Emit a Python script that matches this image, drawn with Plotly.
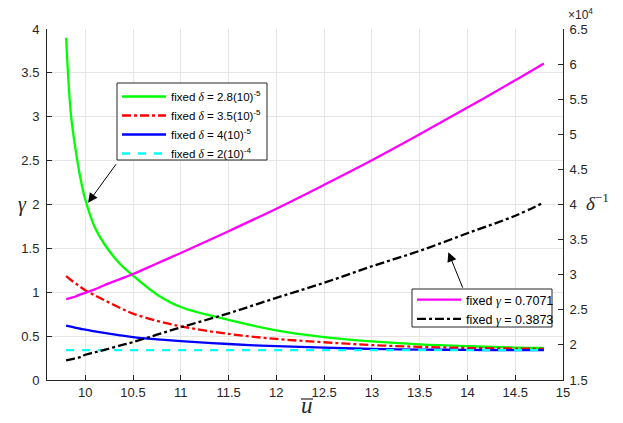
import plotly.graph_objects as go

# ---- data ----
u_bar = [9.8, 9.85, 9.9, 9.95, 10.0, 10.1, 10.2, 10.35, 10.5, 10.75, 11.0, 11.5,
         12.0, 12.5, 13.0, 13.5, 14.0, 14.5, 14.8]

gamma_d28 = [3.90, 3.03, 2.62, 2.30, 2.06, 1.74, 1.55, 1.34, 1.19, 0.975, 0.832, 0.685,
             0.566, 0.489, 0.440, 0.406, 0.385, 0.370, 0.365]
gamma_d35 = [1.183, 1.14, 1.10, 1.06, 1.023, 0.965, 0.91, 0.83, 0.757, 0.675, 0.611, 0.525,
             0.468, 0.430, 0.398, 0.378, 0.366, 0.358, 0.355]
gamma_d40 = [0.619, 0.607, 0.595, 0.584, 0.573, 0.555, 0.538, 0.512, 0.489, 0.464, 0.444, 0.410,
             0.385, 0.368, 0.354, 0.347, 0.343, 0.341, 0.340]
gamma_d200 = [0.340] * len(u_bar)

invdelta_g07071 = [26500, 26700, 26900, 27200, 27400, 27900, 28500, 29300, 30100, 31600, 33100, 36200,
                   39400, 42800, 46300, 50000, 53800, 57700, 60100]
invdelta_g03873 = [17800, 17950, 18100, 18250, 18600, 18950, 19300, 19850, 20400, 21450, 22500, 24500,
                   26700, 28850, 31200, 33400, 35900, 38400, 40300]

x_ticks = [10, 10.5, 11, 11.5, 12, 12.5, 13, 13.5, 14, 14.5, 15]
y_ticks = [0, 0.5, 1, 1.5, 2, 2.5, 3, 3.5, 4]
y2_ticks = [15000, 20000, 25000, 30000, 35000, 40000, 45000, 50000, 55000, 60000, 65000]
y2_labels = ["1.5", "2", "2.5", "3", "3.5", "4", "4.5", "5", "5.5", "6", "6.5"]

SERIF = "Liberation Serif"
D = "<span style='font-family:Liberation Serif'><i>δ</i></span>"
G = "<span style='font-family:Liberation Serif'><i>γ</i></span>"

W, H = 623, 423
ML, MR, MT, MB = 47, 60, 29, 43
PW, PH = W - ML - MR, H - MT - MB


def px(xp):
    return (xp - ML) / PW


def py(yp):
    return (H - MB - yp) / PH


fig = go.Figure()
fig.add_trace(go.Scatter(x=u_bar, y=gamma_d28, mode="lines", line=dict(color="#00ff00", width=2.3, shape="spline"),
                         name=f"fixed {D} = 2.8(10)<sup>-5</sup>", legend="legend"))
fig.add_trace(go.Scatter(x=u_bar, y=gamma_d35, mode="lines", line=dict(color="#ff0000", width=2.3, dash="dashdot", shape="spline"),
                         name=f"fixed {D} = 3.5(10)<sup>-5</sup>", legend="legend"))
fig.add_trace(go.Scatter(x=u_bar, y=gamma_d40, mode="lines", line=dict(color="#0000ff", width=2.3, shape="spline"),
                         name=f"fixed {D} = 4(10)<sup>-5</sup>", legend="legend"))
fig.add_trace(go.Scatter(x=u_bar, y=gamma_d200, mode="lines", line=dict(color="#00ffff", width=2.3, dash="8px,8px"),
                         name=f"fixed {D} = 2(10)<sup>-4</sup>", legend="legend"))
fig.add_trace(go.Scatter(x=u_bar, y=invdelta_g07071, mode="lines", yaxis="y2",
                         line=dict(color="#ff00ff", width=2.3, shape="spline"),
                         name=f"fixed {G} = 0.7071", legend="legend2"))
fig.add_trace(go.Scatter(x=u_bar, y=invdelta_g03873, mode="lines", yaxis="y2",
                         line=dict(color="#000000", width=2.3, dash="dashdot", shape="spline"),
                         name=f"fixed {G} = 0.3873", legend="legend2"))

axis_common = dict(showline=True, linecolor="#262626", linewidth=1, ticks="inside", ticklen=5,
                   tickcolor="#262626", tickfont=dict(family="Liberation Sans", size=13, color="#262626"),
                   zeroline=False)

fig.update_layout(
    width=W, height=H,
    margin=dict(l=ML, r=MR, t=MT, b=MB),
    paper_bgcolor="white", plot_bgcolor="white",
    showlegend=True,
    xaxis=dict(range=[9.6, 15], tickvals=x_ticks, ticktext=[f"{v:g}" for v in x_ticks],
               showgrid=True, gridcolor="#e6e6e6", gridwidth=1, **axis_common),
    yaxis=dict(range=[0, 4], tickvals=y_ticks, ticktext=[f"{v:g}" for v in y_ticks],
               showgrid=True, gridcolor="#e6e6e6", gridwidth=1, ticklabelstandoff=4, **axis_common),
    yaxis2=dict(range=[15000, 65000], overlaying="y", side="right", tickvals=y2_ticks, ticktext=y2_labels,
                showgrid=False, ticklabelstandoff=3, **axis_common),
    legend=dict(x=px(117), y=py(82), xanchor="left", yanchor="top", bgcolor="rgba(0,0,0,0)",
                borderwidth=0, itemwidth=44, font=dict(family="Liberation Sans", size=11.5, color="black"),
                tracegroupgap=0),
    legend2=dict(x=px(412), y=py(285), xanchor="left", yanchor="top", bgcolor="rgba(0,0,0,0)",
                 borderwidth=0, itemwidth=44, font=dict(family="Liberation Sans", size=12.5, color="black")),
    annotations=[
        dict(x=10.03, y=2.02, xref="x", yref="y", ax=29, ay=-40, showarrow=True,
             arrowhead=2, arrowsize=1.9, arrowwidth=1, arrowcolor="black", text=""),
        dict(x=13.80, y=33200, xref="x", yref="y2", ax=15, ay=37, showarrow=True,
             arrowhead=2, arrowsize=1.9, arrowwidth=1, arrowcolor="black", text=""),
        dict(x=px(22), y=py(205), xref="paper", yref="paper", xanchor="center", yanchor="middle",
             showarrow=False, text="<i>γ</i>", font=dict(family=SERIF, size=20, color="#262626")),
        dict(x=px(597), y=py(202), xref="paper", yref="paper", xanchor="center", yanchor="middle",
             showarrow=False, text="<i>δ</i><sup>−1</sup>", font=dict(family=SERIF, size=19, color="#262626")),
        dict(x=px(307), y=py(406), xref="paper", yref="paper", xanchor="center", yanchor="middle",
             showarrow=False, text="<i>u</i>", font=dict(family=SERIF, size=23, color="#262626")),
        dict(x=px(566), y=py(24), xref="paper", yref="paper", xanchor="left", yanchor="bottom",
             showarrow=False, text="×10<sup>4</sup>", font=dict(family="Liberation Sans", size=12, color="#262626")),
    ],
    shapes=[
        dict(type="line", xref="paper", yref="paper", x0=px(301), x1=px(313), y0=py(399), y1=py(399),
             line=dict(color="#262626", width=1.2), layer="above"),
        dict(type="rect", xref="paper", yref="paper", x0=px(117), x1=px(267), y0=py(83), y1=py(160),
             fillcolor="white", line=dict(color="#262626", width=1), layer="above"),
        dict(type="rect", xref="paper", yref="paper", x0=px(412), x1=px(552), y0=py(289), y1=py(327),
             fillcolor="white", line=dict(color="#262626", width=1), layer="above"),
    ],
)

fig.write_html("out.html")
